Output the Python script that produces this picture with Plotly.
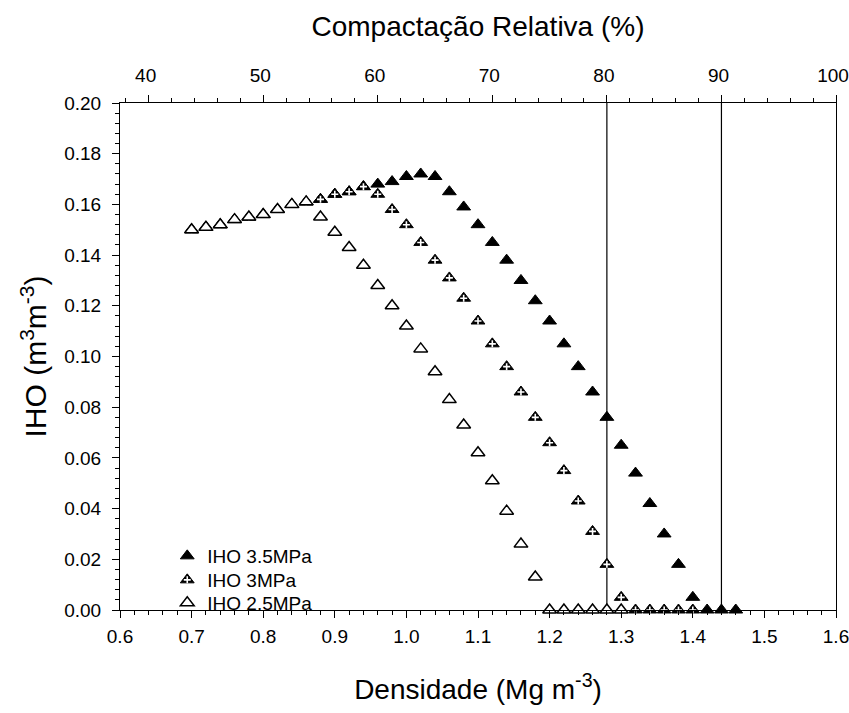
import plotly.graph_objects as go

# ---- data ----
dens_25 = [0.70, 0.72, 0.74, 0.76, 0.78, 0.80, 0.82, 0.84, 0.86, 0.88, 0.90, 0.92, 0.94, 0.96, 0.98,
           1.00, 1.02, 1.04, 1.06, 1.08, 1.10, 1.12, 1.14, 1.16, 1.18, 1.20, 1.22, 1.24, 1.26, 1.28, 1.30]
iho_25 = [0.150, 0.151, 0.152, 0.154, 0.155, 0.156, 0.158, 0.160, 0.161, 0.155, 0.149, 0.143, 0.136, 0.128, 0.120,
          0.112, 0.103, 0.094, 0.083, 0.073, 0.062, 0.051, 0.039, 0.026, 0.013, 0.0, 0.0, 0.0, 0.0, 0.0, 0.0]

dens_30 = [0.70, 0.72, 0.74, 0.76, 0.78, 0.80, 0.82, 0.84, 0.86, 0.88, 0.90, 0.92, 0.94, 0.96, 0.98,
           1.00, 1.02, 1.04, 1.06, 1.08, 1.10, 1.12, 1.14, 1.16, 1.18, 1.20, 1.22, 1.24, 1.26, 1.28, 1.30,
           1.32, 1.34, 1.36, 1.38, 1.40]
iho_30 = [0.150, 0.151, 0.152, 0.154, 0.155, 0.156, 0.158, 0.160, 0.161, 0.162, 0.164, 0.165, 0.167, 0.164, 0.158,
          0.152, 0.145, 0.138, 0.131, 0.123, 0.114, 0.105, 0.096, 0.086, 0.076, 0.066, 0.055, 0.043, 0.031, 0.018, 0.005,
          0.0, 0.0, 0.0, 0.0, 0.0]

dens_35 = [0.70, 0.72, 0.74, 0.76, 0.78, 0.80, 0.82, 0.84, 0.86, 0.88, 0.90, 0.92, 0.94, 0.96, 0.98,
           1.00, 1.02, 1.04, 1.06, 1.08, 1.10, 1.12, 1.14, 1.16, 1.18, 1.20, 1.22, 1.24, 1.26, 1.28, 1.30,
           1.32, 1.34, 1.36, 1.38, 1.40, 1.42, 1.44, 1.46]
iho_35 = [0.150, 0.151, 0.152, 0.154, 0.155, 0.156, 0.158, 0.160, 0.161, 0.162, 0.164, 0.165, 0.167, 0.168, 0.169,
          0.171, 0.172, 0.171, 0.165, 0.159, 0.152, 0.145, 0.138, 0.130, 0.122, 0.114, 0.105, 0.096, 0.086, 0.076, 0.065,
          0.054, 0.042, 0.030, 0.018, 0.005, 0.0, 0.0, 0.0]

dens_max = 1.6                 # density at 100 % relative compaction
ref_compaction = [80, 90]      # reference lines (%)
top_ticks = [40, 50, 60, 70, 80, 90, 100]
bottom_ticks = [0.6, 0.7, 0.8, 0.9, 1.0, 1.1, 1.2, 1.3, 1.4, 1.5, 1.6]
y_ticks = [0.0, 0.02, 0.04, 0.06, 0.08, 0.10, 0.12, 0.14, 0.16, 0.18, 0.20]
series_names = ["IHO 3.5MPa", "IHO 3MPa", "IHO 2.5MPa"]

FONT = "Liberation Sans, Arial, sans-serif"
TICK = 19
LEG = 19

fig = go.Figure()

fig.add_trace(go.Scatter(
    x=dens_35, y=iho_35, mode="markers", name=series_names[0],
    marker=dict(symbol="triangle-up", size=12, color="black", line=dict(color="black", width=1)),
    cliponaxis=False, legend="legend"))
fig.add_trace(go.Scatter(
    x=dens_30, y=iho_30, mode="markers", name=series_names[1],
    marker=dict(symbol="triangle-up", size=12, color="black", line=dict(color="black", width=1)),
    cliponaxis=False, legend="legend2"))
fig.add_trace(go.Scatter(
    x=dens_30, y=iho_30, mode="markers", name=" ",
    marker=dict(symbol="cross-thin", size=5, color="white", line=dict(color="white", width=1.6)),
    cliponaxis=False, legend="legend3"))
fig.add_trace(go.Scatter(
    x=dens_25, y=iho_25, mode="markers", name=series_names[2],
    marker=dict(symbol="triangle-up", size=12, color="white", line=dict(color="black", width=1.5)),
    cliponaxis=False, legend="legend4"))

# reference lines at 80 % and 90 % relative compaction
for pct in ref_compaction:
    d = dens_max * pct / 100
    fig.add_shape(type="line", xref="x", yref="y", x0=d, x1=d, y0=0, y1=0.20,
                  line=dict(color="black", width=1.2), layer="below")

# invisible trace on top axis so it renders
fig.add_trace(go.Scatter(x=[d / dens_max * 100 for d in dens_35], y=iho_35, xaxis="x2",
                         mode="markers", marker=dict(opacity=0), showlegend=False, hoverinfo="skip"))


def leg(yrow):
    return dict(x=0.066, y=yrow, xanchor="left", yanchor="middle",
                bgcolor="rgba(0,0,0,0)", font=dict(size=LEG, family=FONT), itemwidth=30)


fig.update_layout(
    width=849, height=713,
    margin=dict(l=120, r=13, t=103, b=103),
    paper_bgcolor="white", plot_bgcolor="white",
    font=dict(family=FONT, color="black"),
    showlegend=True,
    legend=leg(0.1065), legend2=leg(0.0592), legend3=leg(0.0592), legend4=leg(0.0138),
    xaxis=dict(range=[0.6, 1.6], tickmode="array", tickvals=bottom_ticks,
               tickformat=".1f", ticks="outside", ticklen=7, tickwidth=1, tickcolor="black",
               minor=dict(dtick=0.02, ticks="outside", ticklen=4, tickcolor="black", tickwidth=1),
               showline=True, linecolor="black", linewidth=1, showgrid=False, zeroline=False,
               ticklabelstandoff=2, ticklabeloverflow="allow", automargin=False,
               tickfont=dict(size=TICK), title=dict(text="Densidade (Mg m<sup>-3</sup>)", font=dict(size=28), standoff=33)),
    xaxis2=dict(overlaying="x", side="top", range=[0.6 / dens_max * 100, 100],
                tickmode="array", tickvals=top_ticks,
                ticks="outside", ticklen=7, tickwidth=1, tickcolor="black",
                minor=dict(dtick=2, ticks="outside", ticklen=4, tickcolor="black", tickwidth=1),
                showline=True, linecolor="black", linewidth=1, showgrid=False, zeroline=False,
                ticklabelstandoff=5, ticklabelshift=-3, ticklabeloverflow="allow", automargin=False,
                tickfont=dict(size=TICK), title=dict(text="Compactação Relativa (%)", font=dict(size=28), standoff=20)),
    yaxis=dict(range=[0, 0.20], tickmode="array", tickvals=y_ticks,
               tickformat=".2f", ticks="outside", ticklen=7, tickwidth=1, tickcolor="black",
               minor=dict(dtick=0.004, ticks="outside", ticklen=4, tickcolor="black", tickwidth=1),
               showline=True, linecolor="black", linewidth=1, mirror=True, showgrid=False, zeroline=False,
               ticklabelstandoff=7, ticklabeloverflow="allow", automargin=False,
               tickfont=dict(size=TICK), title=dict(text="IHO (m<sup>3</sup>m<sup>-3</sup>)", font=dict(size=30), standoff=8)),
)

fig.write_html("out.html", config={"displayModeBar": False},
               post_script="document.body.style.margin='0';document.body.style.overflow='hidden';")
